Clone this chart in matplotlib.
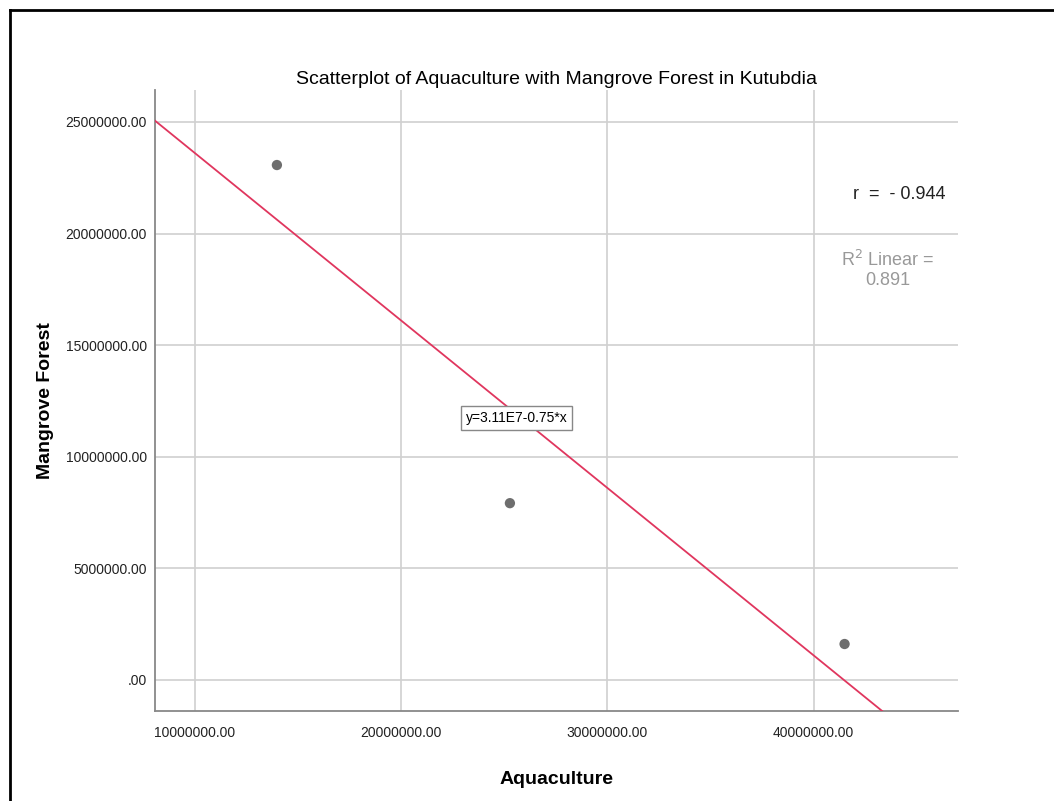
import matplotlib.pyplot as plt
from matplotlib.lines import Line2D

# Aquaculture vs mangrove forest area, Kutubdia
aquaculture = [13970000, 25270000, 41500000]
mangrove = [23070000, 7920000, 1610000]

# fit line reported in the chart
intercept = 3.11e7
slope = -0.75

x_ticks = [10000000, 20000000, 30000000, 40000000]
y_ticks = [0, 5000000, 10000000, 15000000, 20000000, 25000000]

plt.rcParams['font.family'] = ['Liberation Sans', 'DejaVu Sans']

fig = plt.figure(figsize=(10.54, 8.01), dpi=100)
ax = fig.add_axes([0.1471, 0.1124, 0.7618, 0.7752])

xmin, xmax = 8060000, 47000000
ymin, ymax = -1390000, 26430000

ax.set_xlim(xmin, xmax)
ax.set_ylim(ymin, ymax)

ax.grid(True, color='#d0d0d0', linewidth=1.2)
ax.set_axisbelow(True)

# regression line across the full x range
xs = [xmin, xmax]
ys = [intercept + slope * v for v in xs]
ax.plot(xs, ys, color='#e0365e', linewidth=1.3, zorder=3)

ax.scatter(aquaculture, mangrove, s=55, color='#6e6e6e', zorder=4, edgecolors='none')

ax.set_xticks(x_ticks)
ax.set_yticks(y_ticks)
ax.set_xticklabels([f"{v:.2f}" for v in x_ticks], fontsize=10, color='#222222')
ax.set_yticklabels([f"{v:.2f}" if v else ".00" for v in y_ticks], fontsize=10, color='#222222')
ax.tick_params(axis='x', length=0, pad=11)
ax.tick_params(axis='y', length=0, pad=6)

for side in ['top', 'right']:
    ax.spines[side].set_visible(False)
for side in ['left', 'bottom']:
    ax.spines[side].set_color('#888888')
    ax.spines[side].set_linewidth(1.3)

ax.set_title("Scatterplot of Aquaculture with Mangrove Forest in Kutubdia", fontsize=14, pad=4)
ax.set_xlabel("Aquaculture", fontsize=14, fontweight='bold', labelpad=22)
ax.set_ylabel("Mangrove Forest", fontsize=14, fontweight='bold', labelpad=8)

ax.text(25600000, 11730000, "y=3.11E7-0.75*x", fontsize=10, ha='center', va='center',
        bbox=dict(boxstyle='square,pad=0.35', facecolor='white', edgecolor='#888888', linewidth=1),
        zorder=5)

ax.text(0.984, 0.831, "r  =  - 0.944", transform=ax.transAxes, fontsize=13,
        ha='right', va='center', color='#222222')
ax.text(0.913, 0.711, "R$^2$ Linear =\n0.891", transform=ax.transAxes, fontsize=13,
        ha='center', va='center', color='#999999', linespacing=1.2)

# outer frame
fig.add_artist(Line2D([10 / 1054, 10 / 1054], [0, 1 - 10 / 801], color='black', linewidth=2))
fig.add_artist(Line2D([10 / 1054, 1], [1 - 10 / 801, 1 - 10 / 801], color='black', linewidth=2))

plt.savefig("out.png", dpi=100)
